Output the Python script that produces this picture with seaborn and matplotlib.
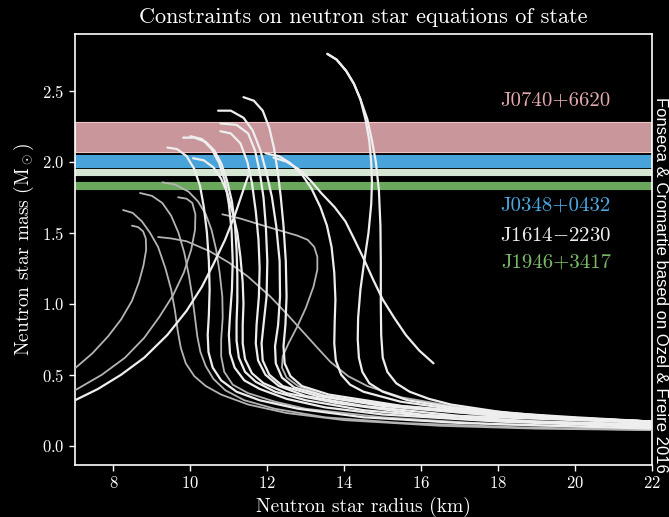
import matplotlib
matplotlib.use("Agg")
import matplotlib.pyplot as plt
import numpy as np
import pandas as pd
import seaborn as sns

# ---------------- data (radius km, mass Msun) ----------------
R_A1 = [13.56, 13.8, 14.05, 14.25, 14.42, 14.55, 14.65, 14.7, 14.72, 14.7, 14.63, 14.52, 14.42, 14.36, 14.35, 14.38, 14.47, 14.65, 15.0, 15.65, 16.8, 18.25, 20.0, 22.0]
M_A1 = [2.76, 2.72, 2.64, 2.55, 2.44, 2.3, 2.15, 2.0, 1.85, 1.7, 1.5, 1.3, 1.1, 0.9, 0.75, 0.62, 0.52, 0.44, 0.38, 0.32, 0.27, 0.23, 0.2, 0.17]
R_A2 = [13.56, 13.8, 14.05, 14.25, 14.42, 14.6, 14.72, 14.82, 14.9, 14.94, 14.95, 14.95, 14.96, 15.0, 15.12, 15.35, 15.7, 16.2, 16.77, 18.0, 20.0, 22.0]
M_A2 = [2.76, 2.72, 2.64, 2.55, 2.44, 2.3, 2.15, 2.0, 1.8, 1.55, 1.3, 1.0, 0.78, 0.62, 0.52, 0.44, 0.38, 0.33, 0.29, 0.24, 0.19, 0.16]
R_K = [12.16, 12.5, 12.86, 13.15, 13.4, 13.75, 14.03, 14.25, 14.5, 14.75, 15.0, 15.3, 15.6, 15.95, 16.32]
M_K = [2.03, 2.0, 1.94, 1.86, 1.78, 1.68, 1.58, 1.46, 1.32, 1.17, 1.03, 0.9, 0.78, 0.67, 0.58]
R_J = [11.95, 12.3, 12.6, 12.9, 13.15, 13.38, 13.55, 13.67, 13.74, 13.77, 13.75, 13.74, 13.78, 13.92, 14.15, 14.5, 15.46, 16.77, 19.4, 22.0]
M_J = [2.06, 2.04, 1.99, 1.91, 1.81, 1.68, 1.55, 1.4, 1.22, 1.03, 0.86, 0.72, 0.6, 0.5, 0.43, 0.38, 0.31, 0.26, 0.2, 0.17]
R_B = [11.38, 11.65, 11.88, 12.05, 12.17, 12.27, 12.35, 12.42, 12.48, 12.5, 12.47, 12.42, 12.45, 12.6, 12.9, 13.6, 15.5, 18.5, 22.0]
M_B = [2.455, 2.43, 2.36, 2.24, 2.1, 1.93, 1.75, 1.55, 1.3, 1.05, 0.85, 0.7, 0.58, 0.49, 0.42, 0.36, 0.28, 0.21, 0.17]
R_C = [10.72, 11.05, 11.38, 11.62, 11.82, 11.98, 12.12, 12.23, 12.32, 12.33, 12.28, 12.2, 12.22, 12.38, 12.7, 13.5, 15.0, 18.0, 22.0]
M_C = [2.36, 2.36, 2.31, 2.22, 2.08, 1.92, 1.75, 1.55, 1.3, 1.05, 0.85, 0.7, 0.58, 0.48, 0.41, 0.35, 0.29, 0.22, 0.17]
R_D = [10.78, 11.2, 11.5, 11.68, 11.8, 11.9, 11.96, 12.0, 11.98, 11.9, 11.85, 11.88, 12.05, 12.4, 13.3, 15.0, 18.0, 22.0]
M_D = [2.27, 2.26, 2.2, 2.08, 1.93, 1.75, 1.55, 1.3, 1.05, 0.85, 0.72, 0.6, 0.5, 0.42, 0.35, 0.28, 0.21, 0.17]
R_E = [10.78, 11.05, 11.3, 11.48, 11.6, 11.7, 11.77, 11.8, 11.78, 11.72, 11.7, 11.76, 11.95, 12.3, 13.0, 14.5, 17.0, 22.0]
M_E = [2.215, 2.2, 2.13, 2.0, 1.85, 1.65, 1.45, 1.25, 1.05, 0.85, 0.72, 0.6, 0.5, 0.42, 0.35, 0.28, 0.21, 0.16]
R_I = [10.07, 10.35, 10.6, 10.8, 10.96, 11.1, 11.22, 11.3, 11.36, 11.38, 11.36, 11.36, 11.42, 11.6, 11.9, 12.5, 13.8, 16.0, 19.0, 22.0]
M_I = [2.025, 2.01, 1.96, 1.88, 1.78, 1.64, 1.5, 1.33, 1.15, 1.0, 0.85, 0.72, 0.61, 0.51, 0.44, 0.37, 0.3, 0.22, 0.17, 0.15]
R_F = [9.81, 10.1, 10.4, 10.62, 10.8, 10.95, 11.08, 11.16, 11.2, 11.22, 11.22, 11.2, 11.2, 11.26, 11.42, 11.7, 12.2, 13.0, 14.5, 17.0, 22.0]
M_F = [2.17, 2.17, 2.14, 2.08, 1.99, 1.87, 1.72, 1.55, 1.38, 1.2, 1.02, 0.87, 0.74, 0.62, 0.52, 0.45, 0.38, 0.32, 0.25, 0.19, 0.14]
R_G = [10.0, 10.3, 10.55, 10.75, 10.9, 11.0, 11.07, 11.1, 11.08, 11.03, 11.0, 11.03, 11.15, 11.4, 11.8, 12.5, 13.5, 15.0, 18.0, 22.0]
M_G = [2.18, 2.16, 2.09, 1.99, 1.86, 1.7, 1.52, 1.3, 1.1, 0.92, 0.78, 0.65, 0.55, 0.46, 0.4, 0.33, 0.27, 0.22, 0.17, 0.13]
R_H = [9.40, 9.65, 9.9, 10.1, 10.25, 10.35, 10.43, 10.48, 10.5, 10.48, 10.45, 10.47, 10.58, 10.8, 11.2, 11.8, 12.8, 14.5, 17.0, 22.0]
M_H = [2.10, 2.09, 2.04, 1.95, 1.83, 1.68, 1.5, 1.3, 1.1, 0.92, 0.78, 0.66, 0.55, 0.46, 0.38, 0.32, 0.26, 0.2, 0.16, 0.12]
R_W = [7.0, 7.6, 8.2, 8.8, 9.4, 9.9, 10.3, 10.6, 10.9, 11.15, 11.35, 11.5]
M_W = [0.32, 0.4, 0.5, 0.62, 0.78, 0.95, 1.12, 1.28, 1.45, 1.62, 1.78, 1.9]

# dimmer (grey) relations
R_L = [9.27, 9.6, 9.95, 10.2, 10.4, 10.55, 10.67, 10.76, 10.83, 10.84, 10.8, 10.8, 10.88, 11.1, 11.5, 12.2, 13.0, 15.0, 18.0, 22.0]
M_L = [1.855, 1.84, 1.79, 1.72, 1.63, 1.52, 1.38, 1.22, 1.05, 0.9, 0.75, 0.63, 0.52, 0.43, 0.37, 0.31, 0.26, 0.2, 0.15, 0.12]
R_M = [8.69, 9.0, 9.27, 9.5, 9.69, 9.84, 9.96, 10.05, 10.12, 10.18, 10.26, 10.4, 10.6, 10.91, 11.4, 12.2, 13.5, 15.5, 18.5, 22.0]
M_M = [1.78, 1.76, 1.71, 1.62, 1.5, 1.36, 1.2, 1.05, 0.9, 0.77, 0.66, 0.56, 0.47, 0.39, 0.32, 0.26, 0.2, 0.16, 0.13, 0.11]
R_N = [8.25, 8.5, 8.74, 8.95, 9.16, 9.35, 9.5, 9.6, 9.67, 9.75, 9.88, 10.1, 10.4, 10.8, 11.5, 12.5, 14.0, 16.5, 19.0, 22.0]
M_N = [1.66, 1.64, 1.58, 1.5, 1.4, 1.25, 1.1, 0.95, 0.81, 0.69, 0.58, 0.49, 0.42, 0.36, 0.29, 0.23, 0.18, 0.14, 0.12, 0.11]
R_O = [7.0, 7.45, 7.86, 8.2, 8.48, 8.66, 8.78, 8.85, 8.84, 8.77, 8.64, 8.48]
M_O = [0.545, 0.65, 0.77, 0.89, 1.02, 1.15, 1.27, 1.38, 1.46, 1.51, 1.54, 1.55]
R_P = [7.0, 7.7, 8.3, 8.8, 9.2, 9.55, 9.83, 10.02, 10.12, 10.13, 10.05, 9.9, 9.68]
M_P = [0.39, 0.5, 0.62, 0.76, 0.91, 1.06, 1.22, 1.38, 1.52, 1.63, 1.71, 1.74, 1.75]
R_Q = [10.83, 11.3, 11.9, 12.4, 12.78, 13.05, 13.22, 13.3, 13.3, 13.2, 13.0, 12.78, 12.55, 12.4, 12.38, 12.5, 12.8, 13.5, 15.0, 18.0, 22.0]
M_Q = [1.63, 1.6, 1.55, 1.51, 1.48, 1.45, 1.4, 1.33, 1.24, 1.12, 0.97, 0.84, 0.72, 0.63, 0.55, 0.48, 0.42, 0.35, 0.28, 0.21, 0.16]
R_R = [9.16, 9.5, 9.9, 10.5, 11.0, 11.5, 12.08, 12.5, 12.9, 13.3, 13.64, 14.1, 14.6, 15.5, 17.0, 19.0, 22.0]
M_R = [1.47, 1.46, 1.44, 1.37, 1.29, 1.19, 1.05, 0.93, 0.81, 0.69, 0.59, 0.49, 0.42, 0.34, 0.27, 0.21, 0.17]

bright_names = ["A1", "A2", "K", "J", "B", "C", "D", "E", "I", "F", "G", "H", "W"]
bright_R = [R_A1, R_A2, R_K, R_J, R_B, R_C, R_D, R_E, R_I, R_F, R_G, R_H, R_W]
bright_M = [M_A1, M_A2, M_K, M_J, M_B, M_C, M_D, M_E, M_I, M_F, M_G, M_H, M_W]
dim_names = ["L", "M", "N", "O", "P", "Q", "R"]
dim_R = [R_L, R_M, R_N, R_O, R_P, R_Q, R_R]
dim_M = [M_L, M_M, M_N, M_O, M_P, M_Q, M_R]

# pulsar mass constraints
pulsar_labels = ["J0740+6620", "J0348+0432", "J1614$-$2230", "J1946+3417"]
mass_lo = [2.07, 1.96, 1.91, 1.81]
mass_hi = [2.28, 2.05, 1.95, 1.855]

x_ticks = [8, 10, 12, 14, 16, 18, 20, 22]
y_ticks = [0.0, 0.5, 1.0, 1.5, 2.0, 2.5]


def to_frame(names, Rs, Ms):
    rows = []
    for n, r, m in zip(names, Rs, Ms):
        for i, (ri, mi) in enumerate(zip(r, m)):
            rows.append({"eos": n, "order": i, "R": ri, "M": mi})
    return pd.DataFrame(rows)


df_bright = to_frame(bright_names, bright_R, bright_M)
df_dim = to_frame(dim_names, dim_R, dim_M)

# ---------------- style ----------------
sns.set_theme(style="ticks")
plt.rcParams.update({
    "font.family": ["cmr10", "DejaVu Serif"],
    "mathtext.fontset": "cm",
    "axes.formatter.use_mathtext": True,
    "axes.unicode_minus": False,
    "figure.facecolor": "black",
    "axes.facecolor": "black",
    "savefig.facecolor": "black",
    "text.color": "white",
    "axes.labelcolor": "white",
    "xtick.color": "white",
    "ytick.color": "white",
    "axes.edgecolor": "white",
})

fig = plt.figure(figsize=(6.69, 5.17), dpi=100)
ax = fig.add_axes([0.1121, 0.1006, 0.8625, 0.8336])

band_colors = ["#c9969b", "#47a3d9", "#d5e6d3", "#6aa65b"]
band_edges = ["#f0c4c6", "#47a3d9", "#d5e6d3", "#6aa65b"]
for lo, hi, c, e in zip(mass_lo, mass_hi, band_colors, band_edges):
    ax.axhspan(lo, hi, facecolor=c, edgecolor=e, lw=0.8, zorder=1)

sns.lineplot(data=df_dim, x="R", y="M", units="eos", estimator=None, sort=False,
             color="#b4b4b4", lw=1.3, ax=ax, zorder=3, legend=False)
sns.lineplot(data=df_bright, x="R", y="M", units="eos", estimator=None, sort=False,
             color="#eeeeee", lw=1.6, ax=ax, zorder=4, legend=False)

ax.set_xlim(7.0, 22.0)
ax.set_ylim(-0.136, 2.90)
ax.set_xticks(x_ticks)
ax.set_yticks(y_ticks)
ax.tick_params(labelsize=12, direction="out", length=4, width=1.0, colors="white")
for s in ax.spines.values():
    s.set_color("white")
    s.set_linewidth(1.2)

ax.set_xlabel("Neutron star radius (km)", fontsize=14, color="white")
ax.set_ylabel(r"Neutron star mass (M$_\odot$)", fontsize=14, color="white")
ax.set_title("Constraints on neutron star equations of state", fontsize=16,
             color="white", pad=8)

label_colors = ["#e4a9ad", "#4aa9e3", "#eeeeee", "#7bbb68"]
label_y = [2.43, 1.69, 1.48, 1.29]
for lab, c, yy in zip(pulsar_labels, label_colors, label_y):
    ax.text(19.5, yy, lab, color=c, fontsize=15, ha="center", va="center")

fig.text(0.988, 0.812, "Fonseca & Cromartie based on Ozel & Freire 2016",
         rotation=270, ha="center", va="top", fontsize=12, color="white",
         family="Liberation Sans")

fig.savefig("out.png", dpi=100, facecolor="black")
